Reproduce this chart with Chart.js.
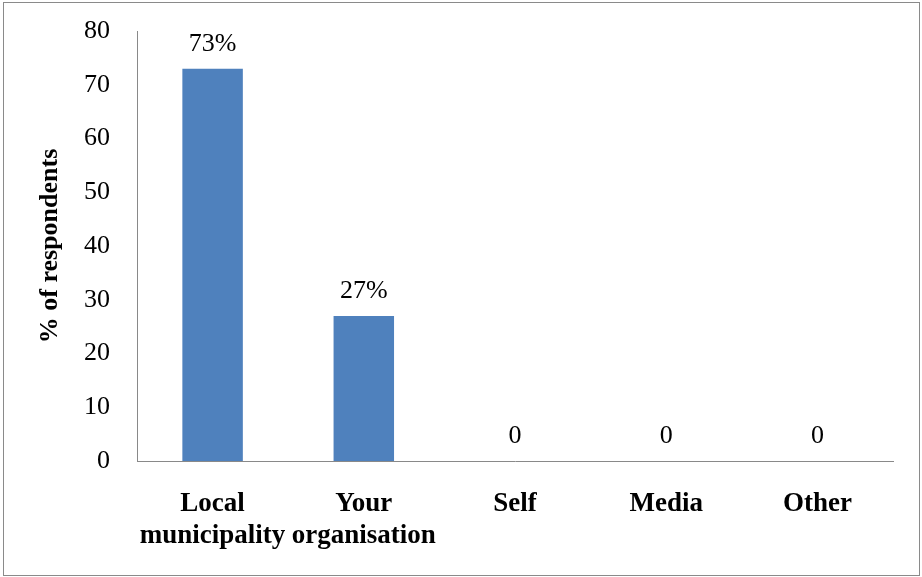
<!DOCTYPE html>
<html>
<head>
<meta charset="utf-8">
<script src="https://cdn.jsdelivr.net/npm/chart.js@4/dist/chart.umd.min.js"></script>
<style>
  html, body { margin: 0; padding: 0; background: #fff; }
  #wrap { width: 922px; height: 577px; position: relative; }
</style>
</head>
<body>
<div id="wrap"><canvas id="chart"></canvas></div>
<script>
const categories = [["Local", "municipality"], ["Your", "organisation"], "Self", "Media", "Other"];
const percentValues = [73, 27, 0, 0, 0];
const valueLabels = ["73%", "27%", "0", "0", "0"];
const yTicks = [0, 10, 20, 30, 40, 50, 60, 70, 80];

const serif = "'Liberation Serif', 'Times New Roman', serif";

// outer frame + value labels above bars
const decorations = {
  id: "decorations",
  beforeDraw(chart) {
    const ctx = chart.ctx;
    ctx.save();
    ctx.fillStyle = "#fff";
    ctx.fillRect(0, 0, chart.width, chart.height);
    ctx.strokeStyle = "#8a8a8a";
    ctx.lineWidth = 1;
    ctx.strokeRect(3.5, 2.5, 916, 573);
    ctx.restore();
  },
  afterDatasetsDraw(chart) {
    const ctx = chart.ctx;
    const meta = chart.getDatasetMeta(0);
    ctx.save();
    ctx.font = "26px " + serif;
    ctx.fillStyle = "#000";
    ctx.textAlign = "center";
    ctx.textBaseline = "alphabetic";
    meta.data.forEach((bar, i) => {
      ctx.fillText(valueLabels[i], bar.x, bar.y - 18);
    });
    ctx.restore();
  }
};

new Chart(document.getElementById("chart"), {
  type: "bar",
  data: {
    labels: categories,
    datasets: [{
      data: percentValues,
      backgroundColor: "#4F81BD",
      borderWidth: 0,
      categoryPercentage: 0.8,
      barPercentage: 0.5
    }]
  },
  options: {
    responsive: true,
    maintainAspectRatio: false,
    animation: false,
    layout: { padding: { top: 31, right: 29, left: 0, bottom: 0 } },
    plugins: {
      legend: { display: false },
      tooltip: { enabled: false }
    },
    scales: {
      x: {
        grid: { display: false },
        border: { display: true, color: "#898989", width: 1 },
        ticks: {
          color: "#000",
          padding: 20,
          maxRotation: 0,
          autoSkip: false,
          font: { family: serif, size: 27, weight: "bold", lineHeight: 1.15 }
        },
        afterFit(scale) { scale.height = 116; }
      },
      y: {
        min: 0,
        max: 80,
        afterBuildTicks(scale) { scale.ticks = yTicks.map(v => ({ value: v })); },
        grid: { display: false },
        border: { display: true, color: "#898989", width: 1 },
        ticks: {
          color: "#000",
          padding: 19,
          font: { family: serif, size: 26 }
        },
        title: {
          display: true,
          text: "% of respondents",
          color: "#000",
          padding: { top: 35, bottom: 0 },
          font: { family: serif, size: 26, weight: "bold" }
        },
        afterFit(scale) {
          scale.width = 137;
          scale.paddingTop = 0;
          scale.paddingBottom = 0;
        }
      }
    }
  },
  plugins: [decorations]
});
</script>
</body>
</html>
